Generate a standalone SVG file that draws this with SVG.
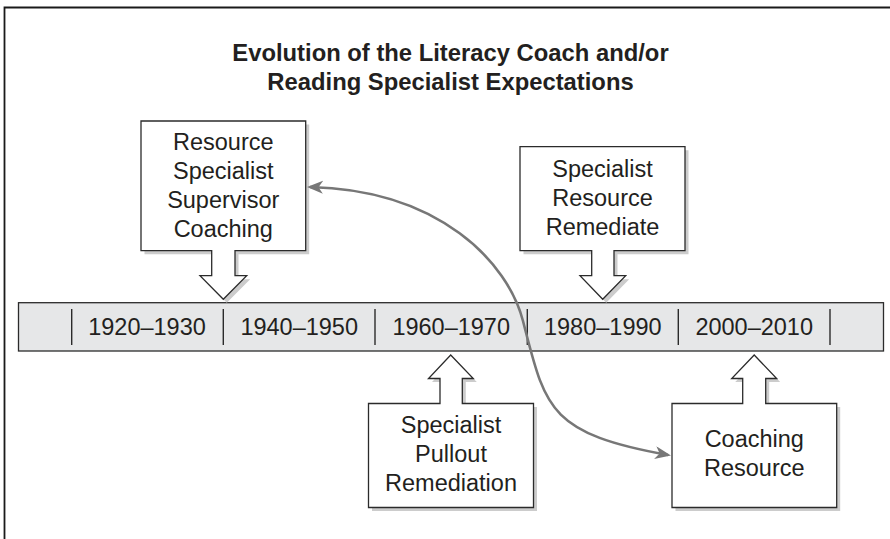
<svg xmlns="http://www.w3.org/2000/svg" width="890" height="539" viewBox="0 0 890 539">
<defs>
<style>
.frame{fill:none;stroke:#1a1a1a;stroke-width:1.8}
.box{fill:#ffffff;stroke:#2b2b2b;stroke-width:1.3;stroke-linejoin:miter}
.shadow{fill:#cccccc;stroke:none}
.bar{fill:#e6e7e8;stroke:#2b2b2b;stroke-width:1.3}
.div{stroke:#2b2b2b;stroke-width:1.4}
.t{font-family:"Liberation Sans",Arial,Helvetica,sans-serif;font-size:23.5px;fill:#231f20;text-anchor:middle}
.title{font-family:"Liberation Sans",Arial,Helvetica,sans-serif;font-size:23.8px;font-weight:bold;fill:#231f20;text-anchor:middle}
.conn{fill:none;stroke:#777777;stroke-width:2.6}
</style>
<marker id="head" markerUnits="userSpaceOnUse" markerWidth="18" markerHeight="14" refX="13" refY="6.5" orient="auto-start-reverse" viewBox="0 0 18 14">
<path d="M0,0 L16,6.5 L0,13 L4.5,6.5 Z" fill="#777777"/>
</marker>
</defs>

<g id="frame">
<path class="frame" d="M890,7.5 H4.5 V539"/>
</g>

<g id="title">
<text class="title" x="450.5" y="61">Evolution of the Literacy Coach and/or</text>
<text class="title" x="450.5" y="89.5">Reading Specialist Expectations</text>
</g>

<g id="timeline">
<rect class="bar" x="18.5" y="302.7" width="865" height="48.3"/>
<line class="div" x1="71.7" y1="309" x2="71.7" y2="345"/>
<line class="div" x1="223.3" y1="309" x2="223.3" y2="345"/>
<line class="div" x1="375" y1="309" x2="375" y2="345"/>
<line class="div" x1="527.3" y1="309" x2="527.3" y2="345"/>
<line class="div" x1="678.3" y1="309" x2="678.3" y2="345"/>
<line class="div" x1="830" y1="309" x2="830" y2="345"/>
<text class="t" x="147" y="335">1920–1930</text>
<text class="t" x="299.2" y="335">1940–1950</text>
<text class="t" x="451.2" y="335">1960–1970</text>
<text class="t" x="602.8" y="335">1980–1990</text>
<text class="t" x="754.2" y="335">2000–2010</text>
</g>

<g id="node-1920">
<path class="shadow" transform="translate(3.5,3.5)" d="M141,121 H305.7 V250.7 H235 V275.7 H246.7 L223.3,299.3 L200,275.7 H211.7 V250.7 H141 Z"/>
<path class="box" d="M141,121 H305.7 V250.7 H235 V275.7 H246.7 L223.3,299.3 L200,275.7 H211.7 V250.7 H141 Z"/>
<text class="t" x="223.3" y="150">Resource</text>
<text class="t" x="223.3" y="179">Specialist</text>
<text class="t" x="223.3" y="208">Supervisor</text>
<text class="t" x="223.3" y="237">Coaching</text>
</g>

<g id="node-1980">
<path class="shadow" transform="translate(3.5,3.5)" d="M520,146.7 H685 V250.7 H614 V275.7 H625.7 L602.7,299.3 L580,275.7 H591.7 V250.7 H520 Z"/>
<path class="box" d="M520,146.7 H685 V250.7 H614 V275.7 H625.7 L602.7,299.3 L580,275.7 H591.7 V250.7 H520 Z"/>
<text class="t" x="602.5" y="177">Specialist</text>
<text class="t" x="602.5" y="206">Resource</text>
<text class="t" x="602.5" y="235">Remediate</text>
</g>

<g id="node-1960">
<path class="shadow" transform="translate(3.5,3.5)" d="M368.5,403.5 H440 V378.5 H428.5 L450.7,355 L473.3,378.5 H462.3 V403.5 H533.5 V507.5 H368.5 Z"/>
<path class="box" d="M368.5,403.5 H440 V378.5 H428.5 L450.7,355 L473.3,378.5 H462.3 V403.5 H533.5 V507.5 H368.5 Z"/>
<text class="t" x="451" y="433">Specialist</text>
<text class="t" x="451" y="462">Pullout</text>
<text class="t" x="451" y="491">Remediation</text>
</g>

<g id="node-2000">
<path class="shadow" transform="translate(3.5,3.5)" d="M672,403.5 H742.7 V378.5 H731.7 L754.2,355 L776.7,378.5 H765.7 V403.5 H836.7 V507.5 H672 Z"/>
<path class="box" d="M672,403.5 H742.7 V378.5 H731.7 L754.2,355 L776.7,378.5 H765.7 V403.5 H836.7 V507.5 H672 Z"/>
<text class="t" x="754.3" y="447">Coaching</text>
<text class="t" x="754.3" y="476">Resource</text>
</g>

<g id="connectors">
<path class="conn" marker-start="url(#head)" marker-end="url(#head)" d="M310,187 C440,190 508,262.8 523,321 C545.5,408.3 548,433.4 668,455"/>
</g>
</svg>
